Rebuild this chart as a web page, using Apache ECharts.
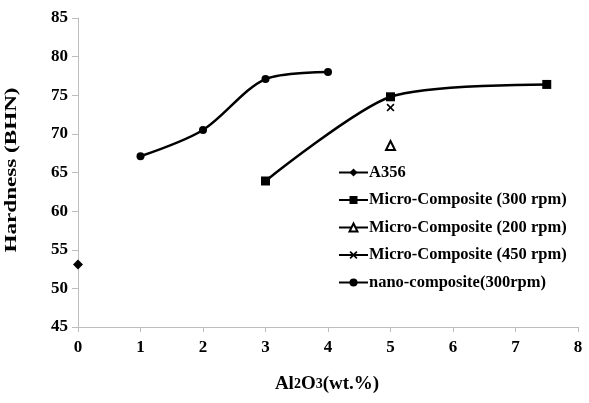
<!DOCTYPE html>
<html>
<head>
<meta charset="utf-8">
<script src="https://cdn.jsdelivr.net/npm/echarts@6/dist/echarts.min.js"></script>
<style>html,body{margin:0;padding:0;background:#fff;}#c{width:589px;height:403px;}</style>
</head>
<body>
<div id="c"></div>
<script>
const seriesNames = ['A356', 'Micro-Composite (300 rpm)', 'Micro-Composite (200 rpm)', 'Micro-Composite (450 rpm)', 'nano-composite(300rpm)'];
const a356 = [[0, 53.1]];
const micro300 = [[3, 63.9], [5, 74.8], [7.5, 76.4]];
const micro200 = [[5, 68.5]];
const micro450 = [[5, 73.4]];
const nano300 = [[1, 67.1], [2, 70.5], [3, 77.1], [4, 78.0]];
const yTitle = 'Hardness (BHN)';

const FONT = '"Liberation Serif", "Times New Roman", serif';
const crossPath = 'path://M0,1.5L1.5,0L5,3.5L8.5,0L10,1.5L6.5,5L10,8.5L8.5,10L5,6.5L1.5,10L0,8.5L3.5,5Z';

const chart = echarts.init(document.getElementById('c'), null, {renderer: 'canvas'});
const lineStyle = {color: '#000', width: 2.5};
chart.setOption({
  animation: false,
  backgroundColor: '#fff',
  grid: {left: 78, right: 11, top: 18, bottom: 76},
  xAxis: {
    type: 'value', min: 0, max: 8, interval: 1,
    axisLine: {lineStyle: {color: '#bdbdbd', width: 1}},
    axisTick: {show: true, length: 5, lineStyle: {color: '#bdbdbd'}},
    splitLine: {show: false},
    axisLabel: {color: '#000', fontFamily: FONT, fontWeight: 'bold', fontSize: 17, margin: 12}
  },
  yAxis: {
    type: 'value', min: 45, max: 85, interval: 5,
    axisLine: {show: true, lineStyle: {color: '#bdbdbd', width: 1}},
    axisTick: {show: true, length: 6, lineStyle: {color: '#bdbdbd'}},
    splitLine: {show: false},
    axisLabel: {color: '#000', fontFamily: FONT, fontWeight: 'bold', fontSize: 17, margin: 10}
  },
  legend: {
    orient: 'vertical', left: 333, top: 159,
    itemWidth: 29, itemHeight: 10, itemGap: 10.5,
    data: seriesNames,
    textStyle: {color: '#000', fontFamily: FONT, fontWeight: 'bold', fontSize: 16.5, lineHeight: 17, padding: [0, 0, 0, -4]}
  },
  graphic: [
    {type: 'text', x: 12, y: 170, rotation: Math.PI / 2, scaleX: 1.36, scaleY: 1,
     style: {text: yTitle, fill: '#000', font: 'bold 17px ' + FONT, textAlign: 'center', textVerticalAlign: 'middle'}},
    {type: 'text', x: 327, y: 384,
     style: {text: 'Al{s|2}O{s|3}(wt.%)', fill: '#000', font: 'bold 19px ' + FONT, textAlign: 'center', textVerticalAlign: 'middle',
       rich: {s: {fontSize: 14, fontWeight: 'bold', fontFamily: FONT, fill: '#000'}}}}
  ],
  series: [
    {name: seriesNames[0], type: 'line', data: a356, symbol: 'diamond', symbolSize: 10,
     itemStyle: {color: '#000'}, lineStyle: lineStyle},
    {name: seriesNames[1], type: 'line', data: micro300, smooth: 0.25, symbol: 'rect', symbolSize: 9,
     itemStyle: {color: '#000'}, lineStyle: lineStyle},
    {name: seriesNames[2], type: 'line', data: micro200, symbol: 'emptyTriangle', symbolSize: 9,
     itemStyle: {color: '#000', borderWidth: 1.6}, lineStyle: lineStyle},
    {name: seriesNames[3], type: 'line', data: micro450, symbol: crossPath, symbolSize: 8,
     itemStyle: {color: '#000'}, lineStyle: lineStyle},
    {name: seriesNames[4], type: 'line', data: nano300, smooth: 0.3, symbol: 'circle', symbolSize: 8,
     itemStyle: {color: '#000'}, lineStyle: lineStyle}
  ]
});
</script>
</body>
</html>
